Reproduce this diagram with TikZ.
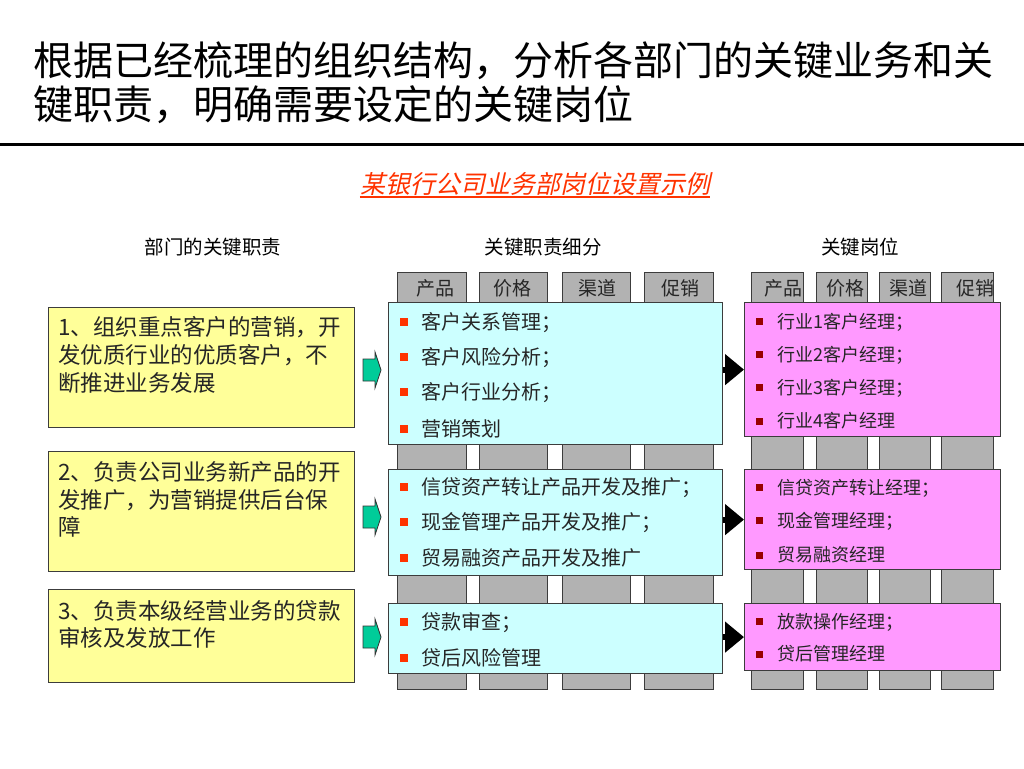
\documentclass[tikz,border=0pt]{standalone}
\usepackage{fontspec}
\setmainfont{Noto Sans CJK SC}
\newfontfamily\cjkit[FakeSlant=0.22]{Noto Sans CJK SC}
\usetikzlibrary{arrows.meta}
\definecolor{colgray}{RGB}{178,178,178}
\definecolor{cyanbox}{RGB}{204,255,255}
\definecolor{pinkbox}{RGB}{255,153,255}
\definecolor{yelbox}{RGB}{255,255,153}
\definecolor{bulred}{RGB}{255,51,0}
\definecolor{buldark}{RGB}{153,0,0}
\definecolor{subred}{RGB}{255,51,0}
\definecolor{grn}{RGB}{0,204,153}
\definecolor{edge}{RGB}{60,60,60}
\newcommand\mbul{\textcolor{bulred}{\rule[3.6pt]{8pt}{8pt}}\hspace{13pt}}
\newcommand\pbul{\textcolor{buldark}{\rule[3.3pt]{7pt}{7pt}}\hspace{14pt}}
\begin{document}
\begin{tikzpicture}[x=1pt,y=-1pt,
  gcol/.style={draw=edge, line width=1.2pt, fill=colgray, inner sep=0, anchor=north west, minimum height=417},
  cbox/.style={draw=edge, line width=1.2pt, fill=cyanbox, inner sep=0, anchor=north west, minimum width=334},
  pbox/.style={draw=edge, line width=1.2pt, fill=pinkbox, inner sep=0, anchor=north west, minimum width=256},
  ybox/.style={draw=edge, line width=1.2pt, fill=yelbox, inner sep=0, anchor=north west, minimum width=306},
  ttl/.style={font=\fontsize{40}{44}\selectfont, anchor=west, inner sep=0},
  hdr/.style={font=\fontsize{19.5}{22}\selectfont, inner sep=0},
  tab/.style={font=\fontsize{19}{22}\selectfont, inner sep=0, text=black!85},
  ytxt/.style={font=\fontsize{22.5}{26}\selectfont, anchor=west, inner sep=0, text=black!85},
  mitem/.style={font=\fontsize{20}{24}\selectfont, anchor=west, inner sep=0, text=black!85},
  pitem/.style={font=\fontsize{18}{22}\selectfont, anchor=west, inner sep=0, text=black!85},
  barrow/.style={line width=6pt, -{Triangle[length=19pt,width=30pt]}},
  garrow/.style={draw=black!80, line width=0.8pt, fill=grn}
]
\useasboundingbox (0,0) rectangle (1024,768);
\fill[white] (0,0) rectangle (1024,768);

% title
\node[ttl] (t1) at (33,61) {根据已经梳理的组织结构，分析各部门的关键业务和关};
\node[ttl] (t2) at (33,105) {键职责，明确需要设定的关键岗位};
\draw[line width=3pt] (0,144) -- (1024,144);

% subtitle
\node[font=\cjkit\fontsize{25}{30}\selectfont, text=subred, inner sep=0] (sub) at (535,184) {某银行公司业务部岗位设置示例};
\draw[subred, line width=1.4pt] ([yshift=-1pt]sub.south west) -- ([yshift=-1pt]sub.south east);

% headers
\node[hdr] (h1) at (213,247) {部门的关键职责};
\node[hdr] (h2) at (543,247) {关键职责细分};
\node[hdr] (h3) at (860,247) {关键岗位};

% gray columns (middle)
\node[gcol, minimum width=69] (m1) at (397,272) {};
\node[gcol, minimum width=68] (m2) at (479,272) {};
\node[gcol, minimum width=68] (m3) at (562,272) {};
\node[gcol, minimum width=69] (m4) at (644,272) {};
\node[tab] (ml1) at (435,288) {产品};
\node[tab] (ml2) at (512,288) {价格};
\node[tab] (ml3) at (597,288) {渠道};
\node[tab] (ml4) at (680,288) {促销};

% gray columns (right)
\node[gcol, minimum width=52] (r1) at (751,272) {};
\node[gcol, minimum width=51] (r2) at (816,272) {};
\node[gcol, minimum width=51] (r3) at (879,272) {};
\node[gcol, minimum width=52] (r4) at (941,272) {};
\begin{scope}\clip (751,272) rectangle (803,689); \node[tab] (rl1) at (783,288) {产品};\end{scope}
\begin{scope}\clip (816,272) rectangle (867,689); \node[tab] (rl2) at (845,288) {价格};\end{scope}
\begin{scope}\clip (879,272) rectangle (930,689); \node[tab] (rl3) at (908,288) {渠道};\end{scope}
\begin{scope}\clip (941,272) rectangle (993,689); \node[tab] (rl4) at (975,288) {促销};\end{scope}

% yellow boxes
\node[ybox, minimum height=120] (y1) at (48,307) {};
\node[ybox, minimum height=120] (y2) at (48,451) {};
\node[ybox, minimum height=93] (y3) at (48,589) {};
\node[ytxt] (y1a) at (58,327) {1、组织重点客户的营销，开};
\node[ytxt] (y1b) at (58,355) {发优质行业的优质客户，不};
\node[ytxt] (y1c) at (58,383) {断推进业务发展};
\node[ytxt] (y2a) at (58,472) {2、负责公司业务新产品的开};
\node[ytxt] (y2b) at (58,500) {发推广，为营销提供后台保};
\node[ytxt] (y2c) at (58,527) {障};
\node[ytxt] (y3a) at (58,611) {3、负责本级经营业务的贷款};
\node[ytxt] (y3b) at (58,638) {审核及发放工作};

% cyan boxes
\node[cbox, minimum height=142] (c1) at (388,302) {};
\node[cbox, minimum height=106] (c2) at (388,469) {};
\node[cbox, minimum height=70] (c3) at (388,603) {};
\node[mitem] (c1a) at (400,323) {\mbul 客户关系管理；};
\node[mitem] (c1b) at (400,358) {\mbul 客户风险分析；};
\node[mitem] (c1c) at (400,393) {\mbul 客户行业分析；};
\node[mitem] (c1d) at (400,429) {\mbul 营销策划};
\node[mitem] (c2a) at (400,488) {\mbul 信贷资产转让产品开发及推广；};
\node[mitem] (c2b) at (400,523) {\mbul 现金管理产品开发及推广；};
\node[mitem] (c2c) at (400,558) {\mbul 贸易融资产品开发及推广};
\node[mitem] (c3a) at (400,623) {\mbul 贷款审查；};
\node[mitem] (c3b) at (400,658) {\mbul 贷后风险管理};

% pink boxes
\node[pbox, minimum height=134] (p1) at (744,302) {};
\node[pbox, minimum height=100] (p2) at (744,469) {};
\node[pbox, minimum height=67] (p3) at (744,603) {};
\node[pitem] (p1a) at (756,322) {\pbul 行业1客户经理；};
\node[pitem] (p1b) at (756,355) {\pbul 行业2客户经理；};
\node[pitem] (p1c) at (756,388) {\pbul 行业3客户经理；};
\node[pitem] (p1d) at (756,421) {\pbul 行业4客户经理};
\node[pitem] (p2a) at (756,488) {\pbul 信贷资产转让经理；};
\node[pitem] (p2b) at (756,521) {\pbul 现金管理经理；};
\node[pitem] (p2c) at (756,555) {\pbul 贸易融资经理};
\node[pitem] (p3a) at (756,622) {\pbul 放款操作经理；};
\node[pitem] (p3b) at (756,654) {\pbul 贷后管理经理};

% green block arrows
\coordinate (ga1) at (363,370);
\coordinate (ga2) at (363,517);
\coordinate (ga3) at (363,637);
\foreach \g in {ga1,ga2,ga3}{
  \draw[garrow] (\g) ++(0,-11) -- ++(12,0) -- ++(0,-7) -- ++(6,18) -- ++(-6,18) -- ++(0,-7) -- ++(-12,0) -- cycle;
}

% black arrows
\draw[barrow] (c1.east |- p1.west) -- (p1.west);
\draw[barrow] (c2.east |- p2.west) -- (p2.west);
\draw[barrow] (c3.east |- p3.west) -- (p3.west);
\end{tikzpicture}
\end{document}
